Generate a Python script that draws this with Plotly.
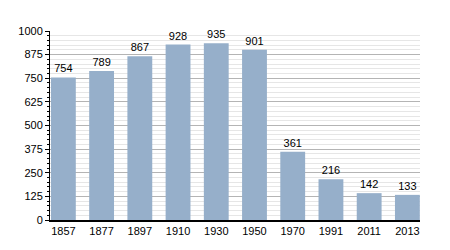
import plotly.graph_objects as go

years = ["1857", "1877", "1897", "1910", "1930", "1950", "1970", "1991", "2011", "2013"]
population = [754, 789, 867, 928, 935, 901, 361, 216, 142, 133]
y_ticks = [0, 125, 250, 375, 500, 625, 750, 875, 1000]

fig = go.Figure(go.Bar(
    x=years, y=population,
    text=[str(v) for v in population], textposition="outside",
    textfont=dict(size=11, color="black"),
    marker=dict(color="#96afca", line=dict(width=0)),
    cliponaxis=False,
))

fig.update_layout(
    width=450, height=250,
    margin=dict(l=50, r=30, t=31, b=30),
    paper_bgcolor="white", plot_bgcolor="white",
    font=dict(family="Liberation Sans, Arial, sans-serif", size=11, color="black"),
    bargap=0.35,
    showlegend=False,
)
fig.update_xaxes(
    type="category", range=[-0.35, 9.33],
    showline=True, linecolor="black", linewidth=1.5,
    ticks="", showgrid=False, tickfont=dict(size=11),
)
fig.update_yaxes(
    range=[0, 1000], tickvals=y_ticks,
    showline=True, linecolor="black", linewidth=1,
    ticks="outside", ticklen=4, tickcolor="black",
    showgrid=True, gridcolor="#b4b4b4", gridwidth=1,
    minor=dict(dtick=25, tick0=0, showgrid=True, gridcolor="#e6e6e6",
               ticks="outside", ticklen=2, tickcolor="black"),
    zeroline=False, tickfont=dict(size=11),
)

fig.write_html("out.html")
